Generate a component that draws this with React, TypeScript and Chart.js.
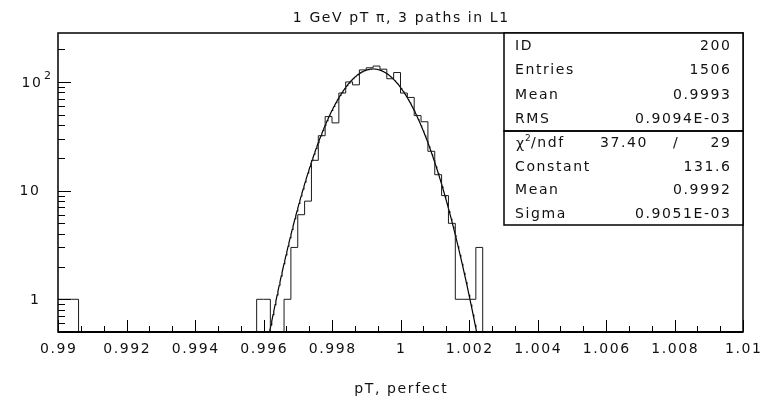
import React, { useEffect, useRef } from 'react';
import { Chart, registerables } from 'chart.js';

Chart.register(...registerables);

// ---------------- data ----------------
const TITLE = '1 GeV pT \u03c0, 3 paths in L1';
const X_TITLE = 'pT, perfect';
const X_MIN = 0.99;
const X_MAX = 1.01;
const BIN_WIDTH = 0.0002;
// 100 bins from 0.99 to 1.01
const BIN_COUNTS = [
  1, 1, 1, 0, 0, 0, 0, 0, 0, 0,
  0, 0, 0, 0, 0, 0, 0, 0, 0, 0,
  0, 0, 0, 0, 0, 0, 0, 0, 0, 1,
  1, 0, 0, 1, 3, 6, 8, 19, 32, 48,
  42, 79, 100, 94, 129, 135, 140, 131, 107, 122,
  79, 72, 49, 43, 23, 14, 9, 5, 1, 1,
  1, 3, 0, 0, 0, 0, 0, 0, 0, 0,
  0, 0, 0, 0, 0, 0, 0, 0, 0, 0,
  0, 0, 0, 0, 0, 0, 0, 0, 0, 0,
  0, 0, 0, 0, 0, 0, 0, 0, 0, 0,
];
const Y_MIN = 0.5;
const Y_MAX = 282;
const X_TICK_VALUES = [0.99, 0.992, 0.994, 0.996, 0.998, 1.0, 1.002, 1.004, 1.006, 1.008, 1.01];
const X_TICK_LABELS = ['0.99', '0.992', '0.994', '0.996', '0.998', '1', '1.002', '1.004', '1.006', '1.008', '1.01'];
const Y_TICK_VALUES = [1, 10, 100];
const Y_TICK_LABELS = ['1', '10', '10'];
const Y_TICK_EXPONENTS = ['', '', '2'];
const Y_MINOR_VALUES = [0.6, 0.7, 0.8, 0.9, 2, 3, 4, 5, 6, 7, 8, 9, 20, 30, 40, 50, 60, 70, 80, 90, 200];
const STATS_LABELS = ['ID', 'Entries', 'Mean', 'RMS'];
const STATS_VALUES = ['200', '1506', '0.9993', '0.9094E-03'];
const CHI2_VALUE = '37.40';
const NDF_VALUE = '29';
const FIT_LABELS = ['Constant', 'Mean', 'Sigma'];
const FIT_VALUES = ['131.6', '0.9992', '0.9051E-03'];
// Gaussian fit parameters as printed in the stats box
const FIT_CONSTANT = 131.6;
const FIT_MEAN = 0.9992;
const FIT_SIGMA = 0.9051e-3;
const FIT_RANGE = [0.996, 1.0025];

// ---------------- helpers ----------------
const ZERO_DRAW = 0.05; // empty bins drawn below the log axis floor (clipped)

const histPoints = BIN_COUNTS.map((c, k) => ({ x: X_MIN + k * BIN_WIDTH, y: c > 0 ? c : ZERO_DRAW }));
histPoints.push({ x: X_MAX, y: BIN_COUNTS[BIN_COUNTS.length - 1] > 0 ? BIN_COUNTS[BIN_COUNTS.length - 1] : ZERO_DRAW });

const fitPoints: { x: number; y: number }[] = [];
for (let i = 0; ; i++) {
  const x = FIT_RANGE[0] + i * 0.00002;
  if (x > FIT_RANGE[1]) break;
  const z = (x - FIT_MEAN) / FIT_SIGMA;
  fitPoints.push({ x, y: FIT_CONSTANT * Math.exp(-0.5 * z * z) });
}

const FONT = '"DejaVu Sans", sans-serif';
const LS = 1.6;

function txt(ctx: CanvasRenderingContext2D, s: string, x: number, y: number, align: CanvasTextAlign, size = 14) {
  ctx.font = `${size}px ${FONT}`;
  (ctx as any).letterSpacing = `${LS}px`;
  ctx.textAlign = align;
  ctx.textBaseline = 'middle';
  let xx = x;
  if (align === 'right') xx = x + LS;
  if (align === 'center') xx = x + LS / 2;
  ctx.fillText(s, xx, y);
}

const pawPlugin = {
  id: 'pawFrame',
  afterDraw(chart: any) {
    const ctx: CanvasRenderingContext2D = chart.ctx;
    const { left, right, top, bottom } = chart.chartArea;
    const xs = chart.scales.x;
    const ys = chart.scales.y;
    ctx.save();
    ctx.strokeStyle = '#000';
    ctx.fillStyle = '#111';

    // x ticks (inward, from bottom)
    ctx.lineWidth = 1;
    ctx.beginPath();
    for (let i = 0; i < X_TICK_VALUES.length; i++) {
      const px = Math.round(xs.getPixelForValue(X_TICK_VALUES[i])) + 0.5;
      ctx.moveTo(px, bottom);
      ctx.lineTo(px, bottom - 12);
      if (i < X_TICK_VALUES.length - 1) {
        const step = (X_TICK_VALUES[i + 1] - X_TICK_VALUES[i]) / 3;
        for (let j = 1; j < 3; j++) {
          const mx = Math.round(xs.getPixelForValue(X_TICK_VALUES[i] + j * step)) + 0.5;
          ctx.moveTo(mx, bottom);
          ctx.lineTo(mx, bottom - 6);
        }
      }
    }
    // y ticks (inward, from left)
    for (const v of Y_TICK_VALUES) {
      const py = Math.round(ys.getPixelForValue(v)) + 0.5;
      ctx.moveTo(left, py);
      ctx.lineTo(left + 13, py);
    }
    for (const v of Y_MINOR_VALUES) {
      const py = Math.round(ys.getPixelForValue(v)) + 0.5;
      ctx.moveTo(left, py);
      ctx.lineTo(left + 7, py);
    }
    ctx.stroke();

    // frame
    ctx.lineWidth = 1.5;
    ctx.strokeRect(left, top, right - left, bottom - top);
    ctx.lineWidth = 2;
    ctx.beginPath();
    ctx.moveTo(left, bottom);
    ctx.lineTo(right, bottom);
    ctx.stroke();

    // x labels
    for (let i = 0; i < X_TICK_VALUES.length; i++) {
      txt(ctx, X_TICK_LABELS[i], xs.getPixelForValue(X_TICK_VALUES[i]), bottom + 17, 'center');
    }
    // y labels
    for (let i = 0; i < Y_TICK_VALUES.length; i++) {
      const py = ys.getPixelForValue(Y_TICK_VALUES[i]);
      if (Y_TICK_EXPONENTS[i]) {
        txt(ctx, Y_TICK_LABELS[i], left - 17, py + 1, 'right');
        txt(ctx, Y_TICK_EXPONENTS[i], left - 14, py - 6, 'left', 11);
      } else {
        txt(ctx, Y_TICK_LABELS[i], left - 19, py + 1, 'right');
      }
    }

    // titles
    txt(ctx, TITLE, (left + right) / 2, 18, 'center');
    txt(ctx, X_TITLE, (left + right) / 2, 389, 'center');

    // stats boxes
    const bx = 504;
    const mid = 131;
    const bb = 225;
    ctx.fillStyle = '#fff';
    ctx.fillRect(bx, top, right - bx, bb - top);
    ctx.strokeStyle = '#000';
    ctx.lineWidth = 1.5;
    ctx.strokeRect(bx, top, right - bx, mid - top);
    ctx.strokeRect(bx, mid, right - bx, bb - mid);
    ctx.fillStyle = '#111';
    const r1 = (mid - top) / STATS_LABELS.length;
    for (let i = 0; i < STATS_LABELS.length; i++) {
      const y = top + r1 * (i + 0.5) + 1;
      txt(ctx, STATS_LABELS[i], bx + 11, y, 'left');
      txt(ctx, STATS_VALUES[i], right - 13, y, 'right');
    }
    const r2 = (bb - mid) / (FIT_LABELS.length + 1);
    {
      const y = mid + r2 * 0.5 + 1;
      // chi^2/ndf
      txt(ctx, '\u03c7', bx + 12, y + 1, 'left');
      txt(ctx, '2', bx + 21, y - 5, 'left', 9);
      txt(ctx, '/ndf', bx + 27, y, 'left');
      txt(ctx, CHI2_VALUE, bx + 96, y, 'left');
      txt(ctx, '/', bx + 169, y, 'left');
      txt(ctx, NDF_VALUE, right - 13, y, 'right');
    }
    for (let i = 0; i < FIT_LABELS.length; i++) {
      const y = mid + r2 * (i + 1.5) + 1;
      txt(ctx, FIT_LABELS[i], bx + 11, y, 'left');
      txt(ctx, FIT_VALUES[i], right - 13, y, 'right');
    }
    ctx.restore();
  },
};

export default function App() {
  const ref = useRef<HTMLCanvasElement | null>(null);
  useEffect(() => {
    if (!ref.current) return;
    const chart = new Chart(ref.current, {
      type: 'line',
      data: {
        datasets: [
          {
            data: histPoints,
            stepped: true,
            borderColor: '#1a1a1a',
            borderWidth: 1,
            pointRadius: 0,
            fill: false,
            tension: 0,
          },
          {
            data: fitPoints,
            borderColor: '#000',
            borderWidth: 1.2,
            pointRadius: 0,
            fill: false,
            tension: 0,
          },
        ],
      },
      options: {
        animation: false,
        responsive: false,
        devicePixelRatio: 1,
        layout: { padding: { left: 58, right: 26, top: 33, bottom: 71 } },
        plugins: { legend: { display: false }, tooltip: { enabled: false }, title: { display: false } },
        scales: {
          x: { type: 'linear', min: X_MIN, max: X_MAX, display: false },
          y: { type: 'logarithmic', min: Y_MIN, max: Y_MAX, display: false },
        },
      },
      plugins: [pawPlugin],
    } as any);
    return () => chart.destroy();
  }, []);
  return (
    <div style={{ position: 'absolute', left: 0, top: 0, width: 769, height: 403, background: '#fff' }}>
      <canvas ref={ref} width={769} height={403} style={{ display: 'block' }} />
    </div>
  );
}
